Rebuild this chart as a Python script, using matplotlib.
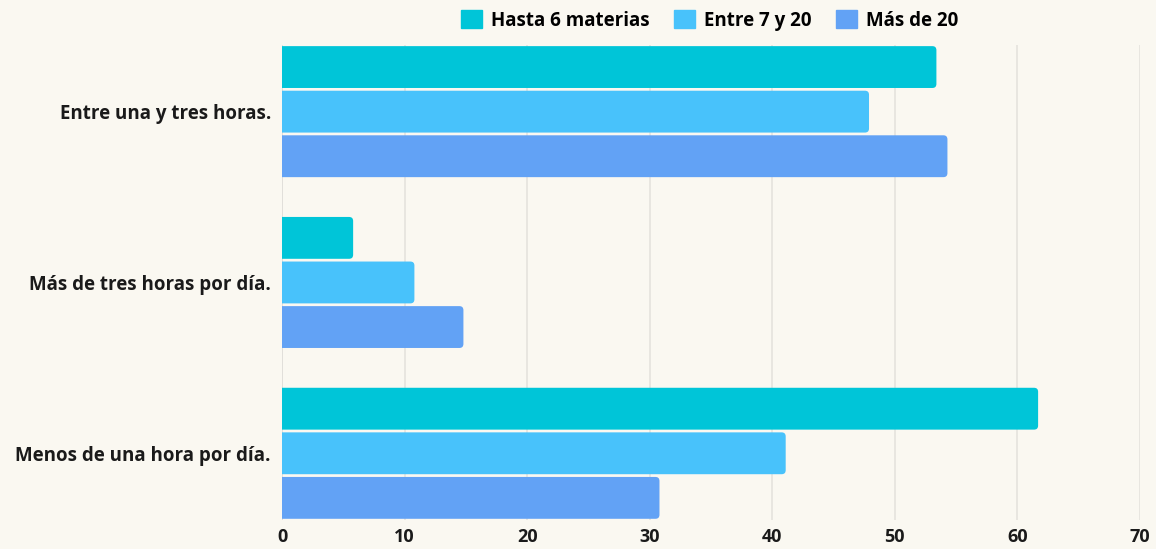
import numpy as np
import matplotlib.pyplot as plt
from matplotlib.patches import FancyBboxPatch

plt.rcParams['font.family'] = ['Open Sans', 'DejaVu Sans']

categorias = ['Entre una y tres horas.', 'Más de tres horas por día.', 'Menos de una hora por día.']
series = ['Hasta 6 materias', 'Entre 7 y 20', 'Más de 20']
hasta_6 = [53.4, 5.8, 61.7]
entre_7_20 = [47.9, 10.8, 41.1]
mas_de_20 = [54.3, 14.8, 30.8]
colores = ['#00C5D8', '#48C2FB', '#62A2F5']
ticks_x = [0, 10, 20, 30, 40, 50, 60, 70]

fondo = '#FAF8F1'
fig = plt.figure(figsize=(11.56, 5.49), dpi=100, facecolor=fondo)
ax = fig.add_axes([0.244, 0.053, 0.742, 0.865], facecolor=fondo)

y = np.arange(len(categorias))
alto = 0.245
paso = 0.261
ax.set_xlim(0, 70)
ax.set_ylim(2.39, -0.39)

# esquinas redondeadas: radio en x (datos) y relacion de aspecto px
radio = 0.33
aspecto = (2.78 / 475) / (70 / 858)

for i, (vals, nombre, c) in enumerate(zip([hasta_6, entre_7_20, mas_de_20], series, colores)):
    barras = ax.barh(y + (i - 1) * paso, vals, height=alto, color=c, label=nombre,
                     linewidth=0, zorder=3)
    for r in barras.patches:
        r.set_visible(False)
        x0, y0 = r.get_x(), r.get_y()
        w, h = r.get_width(), r.get_height()
        ax.add_patch(FancyBboxPatch((x0 - 1, y0), w + 1, h,
                                    boxstyle=f'round,pad=0,rounding_size={radio}',
                                    mutation_aspect=aspecto, facecolor=c,
                                    edgecolor='none', zorder=3))

ax.set_xticks(ticks_x)
ax.set_yticks(y)
ax.set_yticklabels(categorias, fontsize=13.5, fontweight='bold', color='#1a1a1a')
for t in ax.get_xticklabels():
    t.set_fontsize(13)
    t.set_fontweight('bold')
    t.set_color('#1a1a1a')
ax.tick_params(axis='both', length=0, pad=8)
ax.tick_params(axis='x', pad=6)
ax.grid(axis='x', color='#E3E1DC', linewidth=1.1, zorder=0)
ax.axvline(0, color='#D6D4CF', linewidth=1.1, zorder=1)
for s in ax.spines.values():
    s.set_visible(False)

leg = fig.legend(handles=[plt.Rectangle((0, 0), 1, 1, color=c) for c in colores],
                 labels=series, loc='upper center', bbox_to_anchor=(0.614, 1.012), ncol=3,
                 frameon=False, prop={'weight': 'bold', 'size': 13.5}, handlelength=1.1,
                 handleheight=1.1, handletextpad=0.5, columnspacing=1.3)

fig.savefig('out.png', facecolor=fondo)
